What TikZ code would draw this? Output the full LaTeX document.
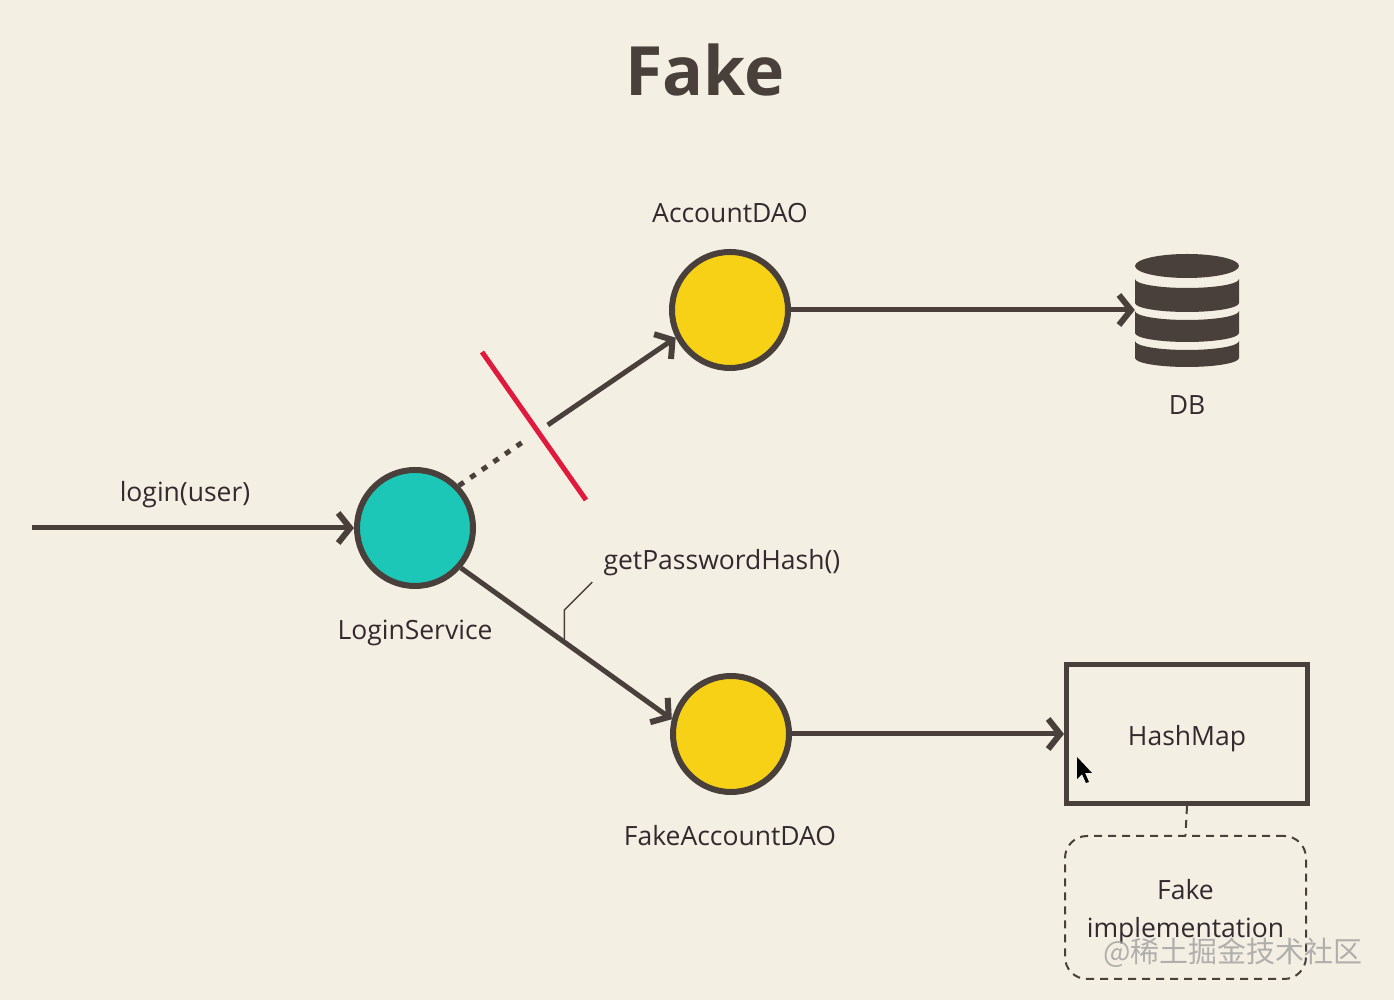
\documentclass[tikz,border=0pt]{standalone}
\usepackage{fontspec}
\setmainfont{Open Sans}
\newfontfamily\cjkfont{Noto Sans CJK SC}
\usepackage{tikz}
\usetikzlibrary{arrows.meta,positioning,calc}
\definecolor{bgcream}{HTML}{F4EFE3}
\definecolor{inkbrown}{HTML}{4A403B}
\definecolor{textdark}{HTML}{33292E}
\definecolor{tealfill}{HTML}{1DC7B8}
\definecolor{yellowfill}{HTML}{F7D116}
\definecolor{cutred}{HTML}{E01A3C}

\begin{document}
\begin{tikzpicture}[
  x=1pt, y=1pt,
  comp/.style={circle, draw=inkbrown, line width=6pt,
               minimum size=116pt, inner sep=0pt},
  lbl/.style={font=\fontsize{26.5}{38}\selectfont, text=textdark},
  arr/.style={-{Straight Barb[length=12pt, width=30pt, line width=6pt]},
              line width=5pt, draw=inkbrown}
]
\useasboundingbox[fill=bgcream] (0,0) rectangle (1394,1000);

\node[font=\fontsize{68}{80}\selectfont\bfseries, text=inkbrown] (title) at (705,930) {Fake};

% components
\node[comp, fill=tealfill] (ls) at (415,472) {};
\node[comp, fill=yellowfill] (acc) at (730,690) {};
\node[comp, fill=yellowfill] (fake) at (731,266) {};
\node[lbl] (lslabel) at (415,367) {LoginService};
\node[lbl] (acclabel) at (730,787) {AccountDAO};
\node[lbl] (fakelabel) at (730,164) {FakeAccountDAO};

% database icon
\node[minimum width=104pt, minimum height=112pt, inner sep=0pt] (db) at (1187,688) {};
\fill[inkbrown] (1187,734) ellipse [x radius=52, y radius=12];
\fill[inkbrown] (1135,721) -- (1135,697) arc[start angle=180, end angle=360, x radius=52, y radius=9]
  -- (1239,721) arc[start angle=0, end angle=-180, x radius=52, y radius=9] -- cycle;
\fill[inkbrown] (1135,689) -- (1135,667) arc[start angle=180, end angle=360, x radius=52, y radius=9]
  -- (1239,689) arc[start angle=0, end angle=-180, x radius=52, y radius=9] -- cycle;
\fill[inkbrown] (1135,659) -- (1135,642) arc[start angle=180, end angle=360, x radius=52, y radius=9]
  -- (1239,659) arc[start angle=0, end angle=-180, x radius=52, y radius=9] -- cycle;
\node[lbl] (dblabel) at (1187,595) {DB};

% fake store
\node[draw=inkbrown, line width=5pt, minimum width=241pt, minimum height=139pt,
      label={[lbl, yshift=-5pt]center:HashMap}] (hash) at (1187,266) {};
\node[draw=inkbrown, line width=2pt, dash pattern=on 8pt off 6pt,
      rounded corners=22pt, minimum width=241pt, minimum height=143pt,
      label={[lbl, align=center, yshift=-4pt]center:Fake\\implementation}]
  (impl) at (1185.5,92.5) {};
\draw[inkbrown, line width=2pt, dash pattern=on 8pt off 6pt] (hash.south) -- (impl.north);

% calls
\coordinate (entry) at (32,472);
\draw[arr] (entry) -- (ls.west);
\node[lbl] (loginlabel) at (185,505) {login(user)};

\draw[line width=5pt, draw=inkbrown, dash pattern=on 6pt off 8pt]
  (ls.44) -- ($(ls.44)!0.29!(acc.207)$);
\draw[arr] ($(ls.44)!0.41!(acc.207)$) -- (acc.207);
\coordinate (cutA) at (482,648);
\coordinate (cutB) at (586,500);
\draw[cutred, line width=5pt] (cutA) -- (cutB);

\draw[arr] (ls.-41) -- (fake.166);
\coordinate (tap) at ($(ls.-41)!0.49!(fake.166)$);
\draw[inkbrown, line width=1.5pt] (tap) -- ++(0,32) -- ++(28,28);
\node[lbl, anchor=west] (hashcall) at (600,437) {getPasswordHash()};

\draw[arr] (acc) -- (acc -| db.west);
\draw[arr] (fake) -- (hash.west);

% pointer and watermark
\fill[black] (1077,243) -- ++(0,-22) -- ++(5,5) -- ++(4,-9) -- ++(3,1)
  -- ++(-4,9) -- ++(7,0) -- cycle;
\node[font=\cjkfont\fontsize{29}{30}\selectfont, text=gray!75, opacity=0.8]
  (mark) at (1233,47) {@稀土掘金技术社区};
\end{tikzpicture}
\end{document}
